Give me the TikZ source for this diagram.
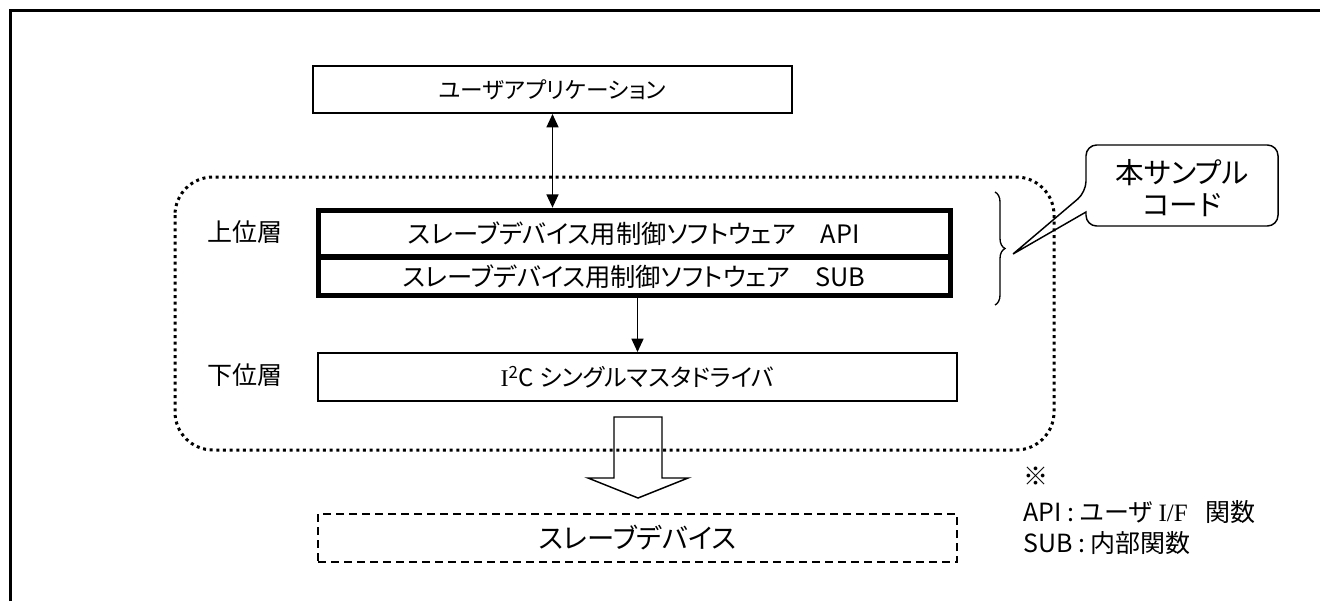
\documentclass[tikz,border=0pt]{standalone}
\usepackage{fontspec}
\setmainfont[RawFeature=+palt]{Noto Sans CJK JP}
\newfontfamily\serifl{Liberation Serif}
\usetikzlibrary{decorations.pathreplacing,arrows.meta}
\begin{document}
\begin{tikzpicture}[x=0.75pt,y=-0.75pt,
  >={Triangle[length=10pt,width=9pt]},
  txt/.style={font=\fontsize{18.75}{22}\selectfont, inner sep=0pt},
  box/.style={draw, line width=1.5pt, inner sep=0pt, txt},
  thickbox/.style={draw, line width=3.75pt, inner sep=0pt, txt, font=\fontsize{19}{22}\selectfont},
  dashbox/.style={draw, line width=1.1pt, dash pattern=on 6pt off 3.75pt, inner sep=0pt, txt},
  region/.style={line width=2.25pt, dash pattern=on 2.25pt off 2.75pt, rounded corners=28.5pt},
  conn/.style={line width=1.1pt},
  frame/.style={line width=2.25pt},
  hollow/.style={line width=1.1pt, line join=miter}
]
\useasboundingbox (0,0) rectangle (1320,601);
\draw[frame] (10,601) -- (10,10) -- (1320,10);

\draw[region] (175,177) rectangle (1054,450);

\node[box, minimum width=359.25pt, minimum height=35.25pt, font=\fontsize{17}{20}\selectfont] (app) at (552.5,89.5) {ユーザアプリケーション};
\node[thickbox, minimum width=474pt, minimum height=35pt] (api) at (634,233.5) {スレーブデバイス用制御ソフトウェア\hspace{1em}API};
\node[thickbox, minimum width=474pt, minimum height=28.5pt] (sub) at (634,276.5) {スレーブデバイス用制御ソフトウェア\hspace{1em}SUB};
\node[box, minimum width=479.25pt, minimum height=36pt, font=\fontsize{18}{22}\selectfont] (i2c) at (637.5,377) {{\serifl I}\textsuperscript{2}C シングルマスタドライバ};
\node[dashbox, minimum width=479.25pt, minimum height=36pt, font=\fontsize{20.5}{24}\selectfont] (slave) at (637.5,538) {スレーブデバイス};

\node[txt] (upper) at (245,232) {上位層};
\node[txt] (lower) at (245,375) {下位層};

\draw[conn, <->] (app.south) -- (app.south |- api.north);
\draw[conn, ->] (i2c.north |- sub.south) -- (i2c.north);

\draw[hollow] (614,417) -- (614,478) -- (588,478) -- (638,498) -- (688,478) -- (662,478) -- (662,417) -- cycle;

\draw[decorate, decoration={brace, amplitude=7.5pt}, line width=1pt] (995,192) -- (995,305);

\node[font=\fontsize{21.5}{24}\selectfont, align=center, inner sep=0pt] (callout) at (1182,188) {本サンプル\\コード};
\draw[conn, rounded corners=8pt] (1086,212) -- (1086,226) -- (1278,226) -- (1278,145) -- (1086,145) -- (1086,192) [sharp corners] -- (1013,254) -- cycle;

\node[txt, anchor=west] (n0) at (1023,476) {※};
\node[txt, anchor=west] (n1) at (1023,512) {API\hspace{0.25em}:\hspace{0.2em}ユーザ\hspace{0.25em}{\serifl I/F}\hspace{0.7em}関数};
\node[txt, anchor=west] (n2) at (1023,543) {SUB\hspace{0.25em}:\hspace{0.2em}内部関数};
\end{tikzpicture}
\end{document}
